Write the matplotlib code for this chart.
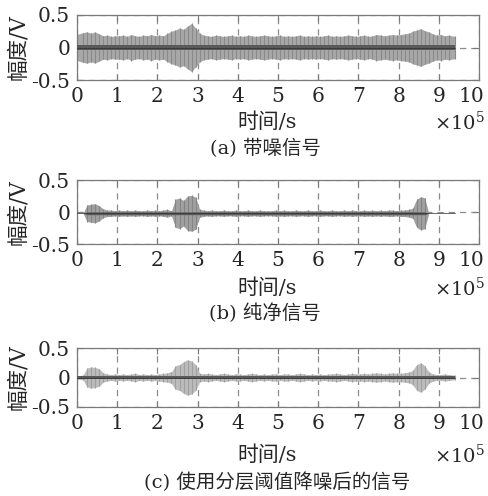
import numpy as np
import matplotlib
matplotlib.use("Agg")
import matplotlib.pyplot as plt
import matplotlib.transforms as mtransforms

plt.rcParams['font.family'] = ['DejaVu Serif', 'Noto Sans CJK SC']
plt.rcParams['mathtext.fontset'] = 'dejavuserif'

# envelope amplitude of each signal, read per 0.1 x 10^5 s bin (0 .. 9.3)
amp_a = [0.20, 0.23, 0.24, 0.22, 0.24, 0.21, 0.18, 0.19, 0.17, 0.18,
         0.18, 0.19, 0.17, 0.20, 0.18, 0.17, 0.19, 0.18, 0.20, 0.18,
         0.19, 0.18, 0.22, 0.25, 0.27, 0.30, 0.28, 0.33, 0.37, 0.30,
         0.22, 0.19, 0.18, 0.17, 0.19, 0.18, 0.17, 0.18, 0.19, 0.17,
         0.18, 0.17, 0.19, 0.18, 0.17, 0.18, 0.19, 0.18, 0.17, 0.18,
         0.19, 0.17, 0.18, 0.17, 0.18, 0.19, 0.17, 0.18, 0.17, 0.18,
         0.17, 0.18, 0.19, 0.17, 0.18, 0.17, 0.18, 0.19, 0.18, 0.17,
         0.18, 0.19, 0.17, 0.18, 0.20, 0.19, 0.18, 0.19, 0.20, 0.19,
         0.20, 0.21, 0.22, 0.25, 0.27, 0.29, 0.26, 0.24, 0.21, 0.19,
         0.20, 0.18, 0.19, 0.17]
amp_b = [0.00, 0.00, 0.13, 0.14, 0.15, 0.12, 0.07, 0.05, 0.05, 0.04,
         0.05, 0.04, 0.05, 0.04, 0.05, 0.04, 0.04, 0.05, 0.04, 0.05,
         0.04, 0.05, 0.06, 0.04, 0.22, 0.24, 0.20, 0.27, 0.28, 0.25,
         0.06, 0.05, 0.04, 0.05, 0.04, 0.04, 0.05, 0.04, 0.04, 0.05,
         0.04, 0.04, 0.05, 0.04, 0.04, 0.05, 0.04, 0.04, 0.04, 0.05,
         0.04, 0.05, 0.04, 0.04, 0.05, 0.04, 0.04, 0.05, 0.04, 0.04,
         0.05, 0.04, 0.04, 0.05, 0.04, 0.04, 0.05, 0.04, 0.05, 0.04,
         0.04, 0.05, 0.04, 0.05, 0.04, 0.05, 0.04, 0.05, 0.05, 0.04,
         0.05, 0.05, 0.06, 0.08, 0.22, 0.26, 0.24, 0.00, 0.00, 0.00,
         0.00, 0.00, 0.00, 0.00]
amp_c = [0.03, 0.04, 0.16, 0.18, 0.17, 0.15, 0.08, 0.06, 0.05, 0.06,
         0.05, 0.06, 0.05, 0.06, 0.07, 0.05, 0.06, 0.05, 0.06, 0.05,
         0.06, 0.07, 0.08, 0.10, 0.20, 0.22, 0.27, 0.30, 0.28, 0.22,
         0.07, 0.06, 0.07, 0.06, 0.05, 0.06, 0.07, 0.06, 0.05, 0.06,
         0.06, 0.05, 0.06, 0.07, 0.06, 0.05, 0.06, 0.05, 0.06, 0.06,
         0.05, 0.06, 0.06, 0.05, 0.06, 0.07, 0.06, 0.05, 0.06, 0.05,
         0.06, 0.05, 0.06, 0.06, 0.07, 0.06, 0.05, 0.06, 0.07, 0.06,
         0.06, 0.07, 0.06, 0.07, 0.08, 0.07, 0.06, 0.07, 0.08, 0.07,
         0.07, 0.08, 0.09, 0.12, 0.22, 0.25, 0.20, 0.10, 0.06, 0.05,
         0.05, 0.06, 0.05, 0.04]
centers = [0.0, -0.02, 0.0]
core_amp = [0.04, 0.022, 0.018]
band_colors = ['#a8a8a8', '#a0a0a0', '#bcbcbc']
streak_colors = ['#8a8a8a', '#858585', '#a0a0a0']
captions = ['(a) 带噪信号', '(b) 纯净信号', '(c) 使用分层阈值降噪后的信号']

xticks = list(range(11))
yticks = [-0.5, 0, 0.5]
ytick_labels = ['-0.5', '0', '0.5']

# layout in pixels (top, bottom of each axes) and label rows
axes_px = [(15, 80), (180, 244), (348, 407)]
xlabel_y = [122, 288, 455]
caption_y = [148, 313, 482]
caption_x = [265, 265, 277]

W, H = 488, 496
fig = plt.figure(figsize=(W / 100, H / 100), dpi=100)
txt = '#262626'
gray = '#7a7a7a'

for k, amp in enumerate([amp_a, amp_b, amp_c]):
    top, bot = axes_px[k]
    ax = fig.add_axes([77 / W, 1 - bot / H, 402 / W, (bot - top) / H])
    amp = np.array(amp)
    n = len(amp)
    xs = np.arange(n) * 0.1 + 0.05
    xs[0], xs[-1] = 0.0, 9.4
    c = centers[k]
    ax.fill_between(xs, c - amp, c + amp, color=band_colors[k], lw=0, zorder=2)
    ax.vlines(xs, c - amp, c + amp, color=streak_colors[k], lw=0.8, zorder=2.5)
    core = np.minimum(amp, core_amp[k])
    ax.fill_between(xs, c - core, c + core, color='#5a5a5a', lw=0, zorder=3)
    ax.plot(xs, np.full(n, c), color='#303030', lw=0.5, zorder=4)

    ax.set_xlim(0, 10)
    ax.set_ylim(-0.5, 0.5)
    ax.set_xticks(xticks)
    ax.set_yticks(yticks)
    ax.set_yticklabels(ytick_labels)
    ax.set_axisbelow(True)
    ax.grid(True, linestyle=(0, (5, 4)), color='#8c8c8c', lw=0.9)
    ax.tick_params(direction='in', length=4, width=0.8, color=gray,
                   top=True, right=True, labelsize=14.5, labelcolor=txt, pad=5)
    for s in ax.spines.values():
        s.set_color(gray)
        s.set_linewidth(0.9)
    # last tick label sits a little left, as in the original figure
    last = ax.get_xticklabels()[-1]
    last.set_transform(last.get_transform() +
                       mtransforms.ScaledTranslation(-8 / 100, 0, fig.dpi_scale_trans))

    fig.text(18 / W, 1 - (top + bot) / 2 / H, '幅度/V', rotation=90,
             ha='center', va='center', fontsize=15.5, color=txt)
    fig.text(267 / W, 1 - xlabel_y[k] / H, '时间/s', ha='center', va='center',
             fontsize=15, color=txt)
    fig.text(459 / W, 1 - xlabel_y[k] / H, r'×10$^{5}$', ha='center',
             va='center', fontsize=14, color=txt)
    fig.text(caption_x[k] / W, 1 - caption_y[k] / H, captions[k], ha='center',
             va='center', fontsize=14, color=txt)

fig.savefig('out.png', dpi=100)
